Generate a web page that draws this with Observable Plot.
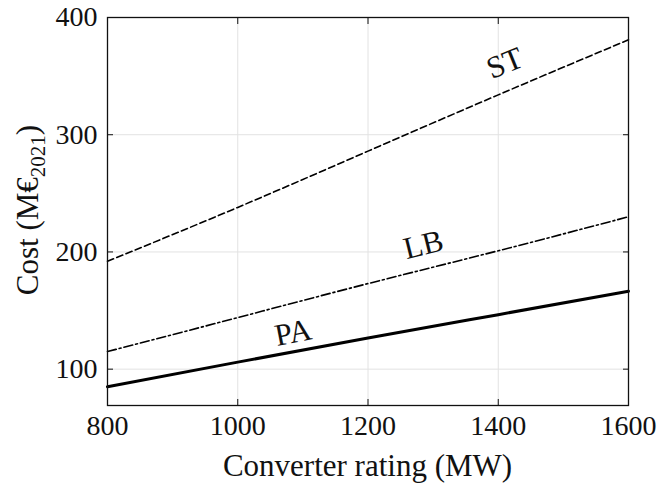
<!DOCTYPE html>
<html>
<head>
<meta charset="utf-8">
<script src="https://cdn.jsdelivr.net/npm/d3@7"></script>
<script src="https://cdn.jsdelivr.net/npm/@observablehq/plot@0.6"></script>
<style>
  html, body { margin: 0; padding: 0; background: #fff; }
  #chart svg { display: block; }
</style>
</head>
<body>
<div id="chart"></div>
<script>
// Data
const ratings = [800, 1000, 1200, 1400, 1600];
const paCost = [85, 106, 126.5, 146.5, 166.5];
const lbCost = [115, 144, 173, 201, 230];
const stCost = [192, 238, 286, 334, 381];

const xTicks = [800, 1000, 1200, 1400, 1600];
const yTicks = [100, 200, 300, 400];

const seriesNames = ["PA", "LB", "ST"];
const labelRating = [1085, 1285, 1410];
const labelCost = [131, 206, 361];
const labelAngle = [-11, -14, -22];

const xLabel = "Converter rating (MW)";

const rows = (vals, name) => ratings.map((r, i) => ({rating: r, cost: vals[i], series: name}));
const pa = rows(paCost, "PA");
const lb = rows(lbCost, "LB");
const st = rows(stCost, "ST");
const lineLabels = seriesNames.map((s, i) => ({name: s, rating: labelRating[i], cost: labelCost[i], angle: labelAngle[i]}));

const blank = () => "";
const plain = (d) => String(d);
const serif = "'Liberation Serif', 'DejaVu Serif', serif";

const chart = Plot.plot({
  width: 661,
  height: 483,
  marginLeft: 107,
  marginRight: 33,
  marginTop: 17,
  marginBottom: 78,
  style: {fontFamily: serif, fontSize: "28px", color: "#111", background: "#fff"},
  x: {domain: [800, 1600]},
  y: {domain: [69, 400]},
  marks: [
    Plot.gridX(xTicks, {stroke: "#e2e2e2", strokeOpacity: 1, strokeWidth: 1}),
    Plot.gridY(yTicks, {stroke: "#e2e2e2", strokeOpacity: 1, strokeWidth: 1}),
    Plot.line(st, {x: "rating", y: "cost", stroke: "#000", strokeWidth: 1.6, strokeDasharray: "6.5,3.5", curve: "natural"}),
    Plot.line(lb, {x: "rating", y: "cost", stroke: "#000", strokeWidth: 1.6, strokeDasharray: "9,3,2,3", curve: "natural"}),
    Plot.line(pa, {x: "rating", y: "cost", stroke: "#000", strokeWidth: 3, curve: "natural"}),
    Plot.text(lineLabels, {x: "rating", y: "cost", text: "name", rotate: "angle", fill: "#111", fontSize: 31}),
    Plot.axisX(xTicks, {anchor: "bottom", tickSize: -6, tickPadding: 16, tickFormat: plain, label: null}),
    Plot.axisX(xTicks, {anchor: "top", tickSize: -6, tickFormat: blank, label: null}),
    Plot.axisY(yTicks, {anchor: "left", tickSize: -6, tickPadding: 16, tickFormat: plain, label: null}),
    Plot.axisY(yTicks, {anchor: "right", tickSize: -6, tickFormat: blank, label: null}),
    Plot.frame({stroke: "#111", strokeWidth: 1.3})
  ]
});

document.getElementById("chart").appendChild(chart);

const svg = d3.select(chart);

// x-axis title
svg.append("text")
  .attr("x", 367.5)
  .attr("y", 476)
  .attr("text-anchor", "middle")
  .attr("fill", "#111")
  .style("font-family", serif)
  .style("font-size", "31px")
  .text(xLabel);

// y-axis title with subscript, added as real text
const yt = svg.append("text")
  .attr("text-anchor", "start")
  .attr("fill", "#111")
  .style("font-family", serif)
  .style("font-size", "31px");
yt.append("tspan").text("Cost (M€");
yt.append("tspan").attr("dy", 7).style("font-size", "21px").text("2021");
yt.append("tspan").attr("dy", -7).text(")");
const len = yt.node().getBBox().width;
yt.attr("transform", `translate(38,${210 + len / 2}) rotate(-90)`);
</script>
</body>
</html>
